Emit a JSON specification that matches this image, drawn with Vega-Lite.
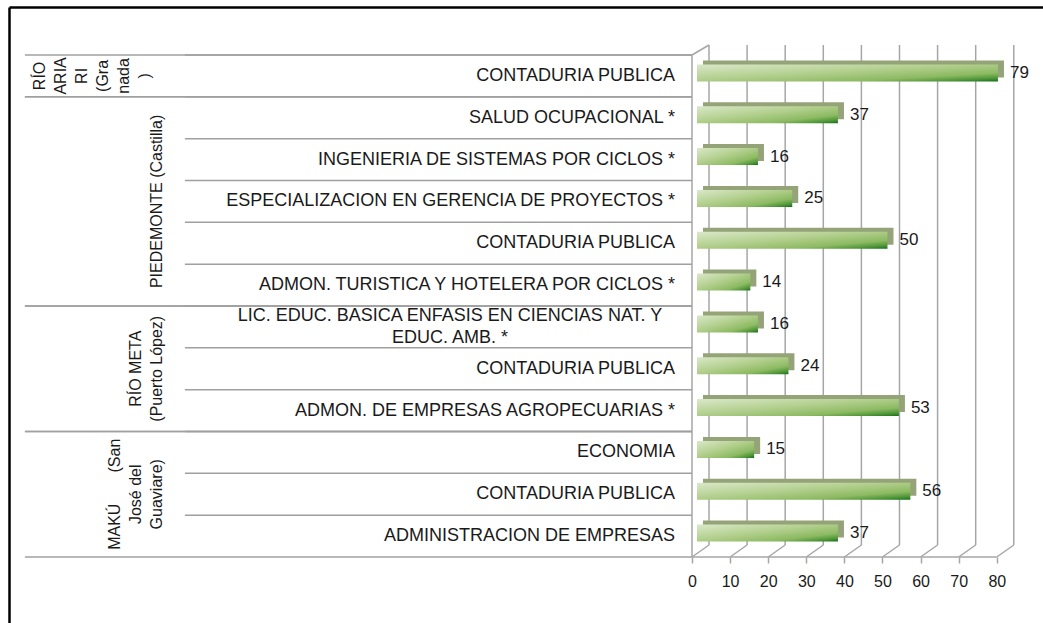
{
  "$schema": "https://vega.github.io/schema/vega-lite/v6.json",
  "width": 1034,
  "height": 616,
  "autosize": {"type": "none"},
  "padding": {"left": 9, "top": 7, "right": 0, "bottom": 0},
  "background": "white",
  "config": {"view": {"stroke": null}, "font": "Liberation Sans"},
  "datasets": {
    "filas": [
      {"id": 1, "grupo": "RÍO\nARIA\nRI\n(Gra\nnada\n)", "programa": "CONTADURIA PUBLICA", "n": 79},
      {"id": 2, "grupo": "PIEDEMONTE (Castilla)", "programa": "SALUD OCUPACIONAL *", "n": 37},
      {"id": 3, "grupo": "PIEDEMONTE (Castilla)", "programa": "INGENIERIA DE SISTEMAS POR CICLOS *", "n": 16},
      {"id": 4, "grupo": "PIEDEMONTE (Castilla)", "programa": "ESPECIALIZACION EN GERENCIA DE PROYECTOS *", "n": 25},
      {"id": 5, "grupo": "PIEDEMONTE (Castilla)", "programa": "CONTADURIA PUBLICA", "n": 50},
      {"id": 6, "grupo": "PIEDEMONTE (Castilla)", "programa": "ADMON. TURISTICA Y HOTELERA POR CICLOS *", "n": 14},
      {"id": 7, "grupo": "RÍO META\n(Puerto López)", "programa": "LIC. EDUC. BASICA ENFASIS EN CIENCIAS NAT. Y\nEDUC. AMB. *", "n": 16},
      {"id": 8, "grupo": "RÍO META\n(Puerto López)", "programa": "CONTADURIA PUBLICA", "n": 24},
      {"id": 9, "grupo": "RÍO META\n(Puerto López)", "programa": "ADMON. DE EMPRESAS AGROPECUARIAS *", "n": 53},
      {"id": 10, "grupo": "MAKÚ\u00a0\u00a0\u00a0\u00a0\u00a0\u00a0\u00a0(San\nJosé del\nGuaviare)", "programa": "ECONOMIA", "n": 15},
      {"id": 11, "grupo": "MAKÚ\u00a0\u00a0\u00a0\u00a0\u00a0\u00a0\u00a0(San\nJosé del\nGuaviare)", "programa": "CONTADURIA PUBLICA", "n": 56},
      {"id": 12, "grupo": "MAKÚ\u00a0\u00a0\u00a0\u00a0\u00a0\u00a0\u00a0(San\nJosé del\nGuaviare)", "programa": "ADMINISTRACION DE EMPRESAS", "n": 37}
    ],
    "marcas": [
      {"v": 0}, {"v": 10}, {"v": 20}, {"v": 30}, {"v": 40},
      {"v": 50}, {"v": 60}, {"v": 70}, {"v": 80}
    ]
  },
  "resolve": {"scale": {"y": "independent"}, "axis": {"x": "independent"}},
  "layer": [
    {
      "data": {"name": "marcas"},
      "layer": [
        {
          "mark": {"type": "rule", "xOffset": 17, "color": "#a6a6a6", "strokeWidth": 1.5},
          "encoding": {
            "x": {
              "field": "v", "type": "quantitative", "title": null,
              "scale": {"domain": [-179.27, 92.13], "nice": false, "zero": false},
              "axis": {"orient": "top", "domain": true, "domainColor": "#000000", "domainWidth": 2.5, "ticks": false, "labels": false, "grid": false, "title": null}
            },
            "y": {
              "datum": 0, "type": "quantitative",
              "scale": {"domain": [-0.156, 1.076], "nice": false, "zero": false},
              "axis": {"orient": "left", "domain": true, "domainColor": "#000000", "domainWidth": 2.5, "ticks": false, "labels": false, "grid": false, "title": null}
            },
            "y2": {"datum": 1}
          }
        },
        {
          "mark": {"type": "rule", "x2Offset": 17, "color": "#a6a6a6", "strokeWidth": 1.5},
          "encoding": {
            "x": {"field": "v", "type": "quantitative", "title": null},
            "x2": {"field": "v"},
            "y": {"datum": -0.024, "type": "quantitative"},
            "y2": {"datum": 0}
          }
        },
        {
          "transform": [{"filter": "datum.v == 0"}],
          "mark": {"type": "rule", "color": "#a6a6a6", "strokeWidth": 1.5},
          "encoding": {
            "x": {"datum": 0, "type": "quantitative"},
            "x2": {"datum": 80},
            "y": {"datum": -0.024, "type": "quantitative"}
          }
        },
        {
          "transform": [{"filter": "datum.v == 0"}],
          "mark": {"type": "rule", "color": "#a6a6a6", "strokeWidth": 1.5},
          "encoding": {
            "x": {"datum": 0, "type": "quantitative"},
            "y": {"datum": -0.024, "type": "quantitative"},
            "y2": {"datum": 0.98}
          }
        },
        {
          "transform": [{"filter": "datum.v == 0"}],
          "mark": {"type": "rule", "x2Offset": 17, "color": "#a6a6a6", "strokeWidth": 1.5},
          "encoding": {
            "x": {"datum": 0, "type": "quantitative"},
            "x2": {"datum": 0},
            "y": {"datum": 0.98, "type": "quantitative"},
            "y2": {"datum": 1}
          }
        }
      ]
    },
    {
      "data": {"name": "filas"},
      "transform": [
        {"window": [{"op": "row_number", "as": "rn"}], "groupby": ["grupo"], "sort": [{"field": "id"}]},
        {"joinaggregate": [{"op": "count", "as": "cnt"}], "groupby": ["grupo"]}
      ],
      "layer": [
        {
          "mark": {"type": "rule", "color": "#a0a0a0", "strokeWidth": 1.5},
          "encoding": {
            "y": {"field": "id", "type": "ordinal", "bandPosition": 0, "axis": null,
                  "scale": {"type": "band", "paddingInner": 0, "paddingOuter": 0, "range": [48, 550], "round": false}},
            "x": {"datum": -133.1, "type": "quantitative"},
            "x2": {"datum": 0}
          }
        },
        {
          "transform": [{"filter": "datum.rn == 1"}],
          "mark": {"type": "rule", "color": "#a0a0a0", "strokeWidth": 1.5},
          "encoding": {
            "y": {"field": "id", "type": "ordinal", "bandPosition": 0, "axis": null,
                  "scale": {"type": "band", "paddingInner": 0, "paddingOuter": 0, "range": [48, 550], "round": false}},
            "x": {"datum": -175.1, "type": "quantitative"},
            "x2": {"datum": 0}
          }
        },
        {
          "transform": [{"filter": "datum.rn == datum.cnt"}],
          "mark": {"type": "rule", "color": "#a0a0a0", "strokeWidth": 1.5},
          "encoding": {
            "y": {"field": "id", "type": "ordinal", "bandPosition": 1, "axis": null,
                  "scale": {"type": "band", "paddingInner": 0, "paddingOuter": 0, "range": [48, 550], "round": false}},
            "x": {"datum": -175.1, "type": "quantitative"},
            "x2": {"datum": 0}
          }
        },
        {
          "mark": {"type": "bar", "color": "#94a378", "height": 17, "xOffset": 11, "x2Offset": 11, "yOffset": -7},
          "encoding": {
            "y": {"field": "id", "type": "ordinal", "axis": null,
                  "scale": {"type": "band", "paddingInner": 0, "paddingOuter": 0, "range": [48, 550], "round": false}},
            "x": {"field": "n", "type": "quantitative", "title": null,
                  "axis": {"orient": "bottom", "offset": -66, "values": [0, 10, 20, 30, 40, 50, 60, 70, 80], "domain": false, "grid": false, "ticks": true, "tickColor": "#a6a6a6", "tickWidth": 1.5, "tickSize": 6, "labelFontSize": 16, "labelColor": "#1a1a1a", "labelPadding": 10, "labelFlush": false, "title": null}}
          }
        },
        {
          "mark": {
            "type": "bar", "height": 17, "xOffset": 5, "x2Offset": 5, "yOffset": -3,
            "color": {
              "gradient": "linear", "x1": 0, "y1": 0, "x2": 1, "y2": 1,
              "stops": [
                {"offset": 0, "color": "#dae8c9"},
                {"offset": 0.45, "color": "#b2cf8d"},
                {"offset": 0.75, "color": "#8dba62"},
                {"offset": 0.9, "color": "#4f9638"},
                {"offset": 1, "color": "#13701a"}
              ]
            }
          },
          "encoding": {
            "y": {"field": "id", "type": "ordinal", "axis": null,
                  "scale": {"type": "band", "paddingInner": 0, "paddingOuter": 0, "range": [48, 550], "round": false}},
            "x": {"field": "n", "type": "quantitative", "title": null}
          }
        },
        {
          "mark": {"type": "text", "align": "left", "baseline": "middle", "dx": 17, "yOffset": -3, "fontSize": 17, "color": "#1a1a1a"},
          "encoding": {
            "y": {"field": "id", "type": "ordinal", "axis": null,
                  "scale": {"type": "band", "paddingInner": 0, "paddingOuter": 0, "range": [48, 550], "round": false}},
            "x": {"field": "n", "type": "quantitative", "title": null},
            "text": {"field": "n", "type": "quantitative"}
          }
        },
        {
          "transform": [{"filter": "indexof(datum.programa, '\\n') < 0"}],
          "mark": {"type": "text", "align": "right", "baseline": "middle", "dx": -17, "fontSize": 18, "color": "#1a1a1a"},
          "encoding": {
            "y": {"field": "id", "type": "ordinal", "axis": null,
                  "scale": {"type": "band", "paddingInner": 0, "paddingOuter": 0, "range": [48, 550], "round": false}},
            "x": {"datum": 0, "type": "quantitative"},
            "text": {"field": "programa", "type": "nominal"}
          }
        },
        {
          "transform": [{"filter": "indexof(datum.programa, '\\n') >= 0"}],
          "mark": {"type": "text", "align": "center", "baseline": "middle", "dx": -242, "yOffset": -11, "fontSize": 18, "lineBreak": "\n", "lineHeight": 22, "color": "#1a1a1a"},
          "encoding": {
            "y": {"field": "id", "type": "ordinal", "axis": null,
                  "scale": {"type": "band", "paddingInner": 0, "paddingOuter": 0, "range": [48, 550], "round": false}},
            "x": {"datum": 0, "type": "quantitative"},
            "text": {"field": "programa", "type": "nominal"}
          }
        },
        {
          "transform": [{"filter": "datum.rn == (datum.cnt + 1) / 2 && length(split(datum.grupo, '\\n')) == 1"}],
          "mark": {"type": "text", "angle": 270, "align": "center", "baseline": "bottom", "fontSize": 16, "lineBreak": "\n", "lineHeight": 21, "color": "#1a1a1a"},
          "encoding": {
            "y": {"field": "id", "type": "ordinal", "axis": null,
                  "scale": {"type": "band", "paddingInner": 0, "paddingOuter": 0, "range": [48, 550], "round": false}},
            "x": {"datum": -138.3, "type": "quantitative"},
            "text": {"field": "grupo", "type": "nominal"}
          }
        },
        {
          "transform": [{"filter": "datum.rn == (datum.cnt + 1) / 2 && length(split(datum.grupo, '\\n')) == 2"}],
          "mark": {"type": "text", "angle": 270, "align": "center", "baseline": "bottom", "fontSize": 16, "lineBreak": "\n", "lineHeight": 21, "color": "#1a1a1a"},
          "encoding": {
            "y": {"field": "id", "type": "ordinal", "axis": null,
                  "scale": {"type": "band", "paddingInner": 0, "paddingOuter": 0, "range": [48, 550], "round": false}},
            "x": {"datum": -143.8, "type": "quantitative"},
            "text": {"field": "grupo", "type": "nominal"}
          }
        },
        {
          "transform": [{"filter": "datum.rn == (datum.cnt + 1) / 2 && length(split(datum.grupo, '\\n')) == 3"}],
          "mark": {"type": "text", "angle": 270, "align": "center", "baseline": "bottom", "fontSize": 16, "lineBreak": "\n", "lineHeight": 21, "color": "#1a1a1a"},
          "encoding": {
            "y": {"field": "id", "type": "ordinal", "axis": null,
                  "scale": {"type": "band", "paddingInner": 0, "paddingOuter": 0, "range": [48, 550], "round": false}},
            "x": {"datum": -149.3, "type": "quantitative"},
            "text": {"field": "grupo", "type": "nominal"}
          }
        },
        {
          "transform": [{"filter": "datum.rn == (datum.cnt + 1) / 2 && length(split(datum.grupo, '\\n')) > 3"}],
          "mark": {"type": "text", "angle": 270, "align": "center", "baseline": "bottom", "fontSize": 16, "lineBreak": "\n", "lineHeight": 21, "color": "#1a1a1a"},
          "encoding": {
            "y": {"field": "id", "type": "ordinal", "axis": null,
                  "scale": {"type": "band", "paddingInner": 0, "paddingOuter": 0, "range": [48, 550], "round": false}},
            "x": {"datum": -169, "type": "quantitative"},
            "text": {"field": "grupo", "type": "nominal"}
          }
        }
      ]
    }
  ]
}
